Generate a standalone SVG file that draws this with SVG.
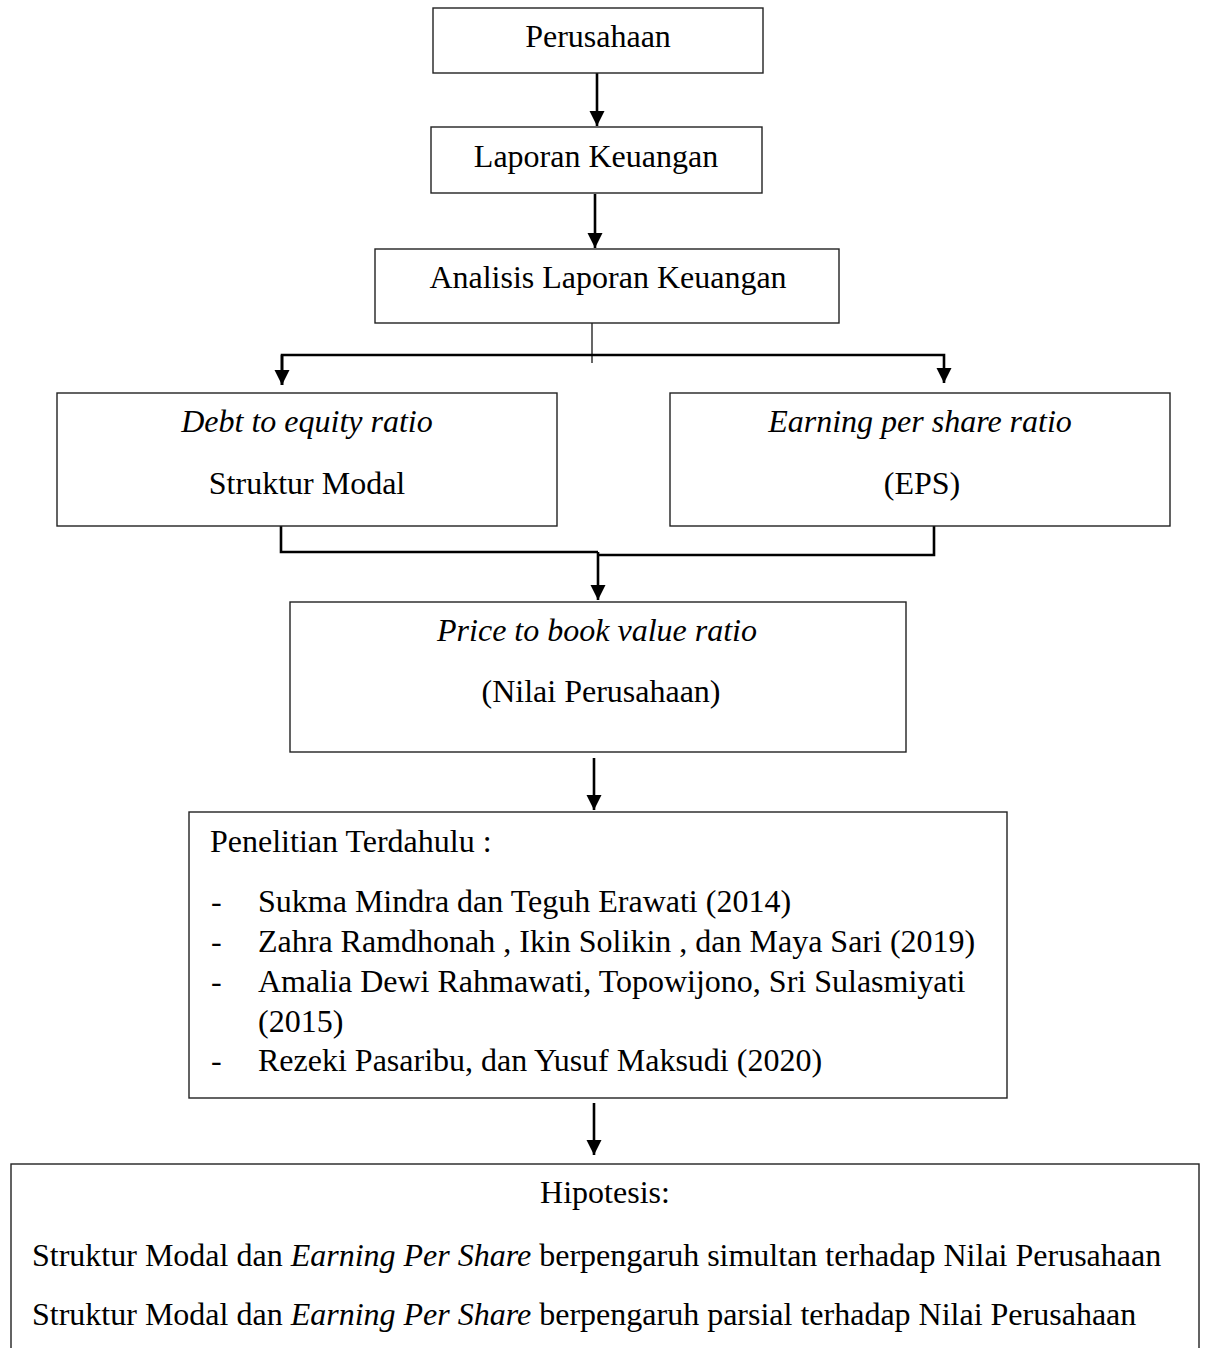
<svg xmlns="http://www.w3.org/2000/svg" width="1208" height="1348" viewBox="0 0 1208 1348">
<style>
.box{fill:#fff;stroke:#222;stroke-width:1.4}
.t{font-family:"Liberation Serif","Times New Roman",serif;font-size:32px;fill:#000}
.c{text-anchor:middle}
.i{font-style:italic}
.ln{fill:none;stroke:#000;stroke-width:2.6}
.thin{fill:none;stroke:#000;stroke-width:1.2}
</style>
<defs>
<marker id="ah" markerUnits="userSpaceOnUse" markerWidth="16" markerHeight="16" refX="15" refY="7.5" orient="auto">
<path d="M0,0 L15,7.5 L0,15 z" fill="#000"/>
</marker>
</defs>
<rect width="1208" height="1348" fill="#fff"/>
<g id="connectors">
<line class="ln" x1="597" y1="73" x2="597" y2="126" marker-end="url(#ah)"/>
<line class="ln" x1="595" y1="194" x2="595" y2="248" marker-end="url(#ah)"/>
<line class="thin" x1="592" y1="323" x2="592" y2="363"/>
<polyline class="ln" points="282,385 282,355 944,355 944,383" marker-end="url(#ah)"/>
<line class="ln" x1="282" y1="355" x2="282" y2="385" marker-end="url(#ah)"/>
<polyline class="ln" points="281,526 281,552 598,552"/>
<polyline class="ln" points="934,526 934,555 598,555"/>
<line class="ln" x1="598" y1="552" x2="598" y2="600" marker-end="url(#ah)"/>
<line class="ln" x1="594" y1="758" x2="594" y2="810" marker-end="url(#ah)"/>
<line class="ln" x1="594" y1="1103" x2="594" y2="1155" marker-end="url(#ah)"/>
</g>
<g id="perusahaan">
<rect class="box" x="433" y="8" width="330" height="65"/>
<text class="t c" x="598" y="47">Perusahaan</text>
</g>
<g id="laporan">
<rect class="box" x="431" y="127" width="331" height="66"/>
<text class="t c" x="596" y="167">Laporan Keuangan</text>
</g>
<g id="analisis">
<rect class="box" x="375" y="249" width="464" height="74"/>
<text class="t c" x="608" y="288">Analisis Laporan Keuangan</text>
</g>
<g id="der">
<rect class="box" x="57" y="393" width="500" height="133"/>
<text class="t c i" x="307" y="432">Debt to equity ratio</text>
<text class="t c" x="307" y="494">Struktur Modal</text>
</g>
<g id="eps">
<rect class="box" x="670" y="393" width="500" height="133"/>
<text class="t c i" x="920" y="432">Earning per share ratio</text>
<text class="t c" x="922" y="494">(EPS)</text>
</g>
<g id="pbv">
<rect class="box" x="290" y="602" width="616" height="150"/>
<text class="t c i" x="597" y="641">Price to book value ratio</text>
<text class="t c" x="601" y="702">(Nilai Perusahaan)</text>
</g>
<g id="penelitian">
<rect class="box" x="189" y="812" width="818" height="286"/>
<text class="t" x="210" y="852">Penelitian Terdahulu :</text>
<text class="t" x="211" y="912">-</text>
<text class="t" x="258" y="912">Sukma Mindra dan Teguh Erawati (2014)</text>
<text class="t" x="211" y="952">-</text>
<text class="t" x="258" y="952">Zahra Ramdhonah , Ikin Solikin , dan Maya Sari (2019)</text>
<text class="t" x="211" y="992">-</text>
<text class="t" x="258" y="992">Amalia Dewi Rahmawati, Topowijono, Sri Sulasmiyati</text>
<text class="t" x="258" y="1032">(2015)</text>
<text class="t" x="211" y="1071">-</text>
<text class="t" x="258" y="1071">Rezeki Pasaribu, dan Yusuf Maksudi (2020)</text>
</g>
<g id="hipotesis">
<rect class="box" x="11" y="1164" width="1188" height="200"/>
<text class="t c" x="605" y="1203">Hipotesis:</text>
<text class="t" x="32" y="1266">Struktur Modal dan <tspan class="i">Earning Per Share</tspan> berpengaruh simultan terhadap Nilai Perusahaan</text>
<text class="t" x="32" y="1325">Struktur Modal dan <tspan class="i">Earning Per Share</tspan> berpengaruh parsial terhadap Nilai Perusahaan</text>
</g>
</svg>
